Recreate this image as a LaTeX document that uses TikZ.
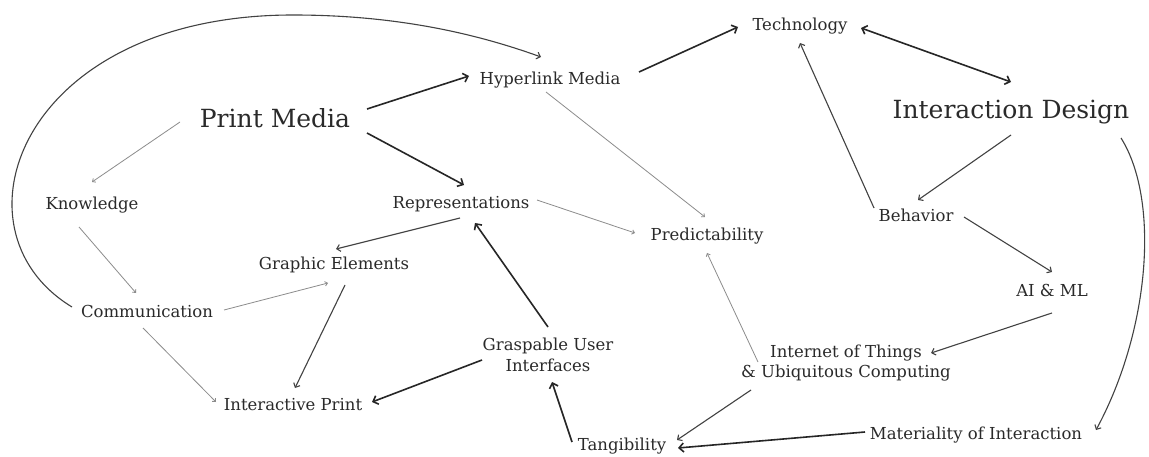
\documentclass[tikz,border=0pt]{standalone}
\usepackage{fontspec}
\setmainfont{DejaVu Serif}
\usetikzlibrary{arrows.meta,calc}
\definecolor{ink}{HTML}{262626}
\definecolor{txt}{HTML}{2A2A2A}
\definecolor{mid}{HTML}{424242}
\definecolor{faint}{HTML}{8C8C8C}

\begin{document}
\begin{tikzpicture}[x=1pt,y=-1pt,
  lbl/.style={text=txt,inner sep=0pt,align=center,font=\fontsize{16.5}{20.5}\selectfont},
  hub/.style={text=txt,inner sep=0pt,font=\fontsize{25}{30}\selectfont},
  strong/.style={draw=ink,line width=1.6pt,-{Straight Barb[length=4.5pt,width=9pt]}},
  strongboth/.style={draw=ink,line width=1.6pt,{Straight Barb[length=4.5pt,width=9pt]}-{Straight Barb[length=4.5pt,width=9pt]}},
  medium/.style={draw=mid,line width=1.1pt,-{Straight Barb[length=3.5pt,width=7pt]}},
  light/.style={draw=faint,line width=0.8pt,-{Straight Barb[length=2.5pt,width=4.5pt]}}
]
\fill[white] (0,0) rectangle (1149,457);
\useasboundingbox (0,0) rectangle (1149,457);

% concepts
\node[hub] (pm)   at (275,118) {Print Media};
\node[hub] (id)   at (1011,112) {Interaction Design};
\node[lbl] (hm)   at (550,80)  {Hyperlink Media};
\node[lbl] (tech) at (800,26)  {Technology};
\node[lbl] (kn)   at (92,205)  {Knowledge};
\node[lbl] (rep)  at (461,204) {Representations};
\node[lbl] (pred) at (707,236) {Predictability};
\node[lbl] (beh)  at (916,215) {Behavior};
\node[lbl] (ge)   at (334,265) {Graphic Elements};
\node[lbl] (com)  at (147,311) {Communication};
\node[lbl] (ai)   at (1052,290) {AI \& ML};
\node[lbl] (gui)  at (548,355) {Graspable User\\Interfaces};
\node[lbl] (iot)  at (846,363) {Internet of Things\\\& Ubiquitous Computing};
\node[lbl] (ip)   at (293,405) {Interactive Print};
\node[lbl] (tan)  at (622,446) {Tangibility};
\node[lbl] (mat)  at (976,435) {Materiality of Interaction};

% strong links
\draw[strong] ($(pm)+(92,-9)$) -- ($(hm)+(-81,-4)$);
\draw[strong] ($(pm)+(92,15)$) -- ($(rep)+(3,-19)$);
\draw[strong] ($(hm)+(89,-8)$) -- ($(tech)+(-62,1)$);
\draw[strongboth] ($(tech)+(61,2)$) -- ($(id)+(0,-30)$);
\draw[strong] ($(gui)+(-66,5)$) -- ($(ip)+(79,-3)$);
\draw[strong] ($(tan)+(-50,-4)$) -- ($(gui)+(4,27)$);
\draw[strong] ($(mat)+(-111,-3)$) -- ($(tan)+(56,2)$);
\draw[strong] ($(gui)+(0,-28)$) -- ($(rep)+(14,19)$);

% medium links
\draw[medium] ($(rep)+(-1,14)$) -- ($(ge)+(2,-16)$);
\draw[medium] ($(ge)+(11,20)$) -- ($(ip)+(2,-17)$);
\draw[medium] ($(id)+(0,23)$) -- ($(beh)+(2,-15)$);
\draw[medium] ($(beh)+(-42,-7)$) -- ($(tech)+(0,17)$);
\draw[medium] ($(beh)+(48,2)$) -- ($(ai)+(0,-18)$);
\draw[medium] ($(ai)+(0,23)$) -- ($(iot)+(85,-10)$);
\draw[medium] ($(iot)+(-95,27)$) -- ($(tan)+(55,-6)$);
\draw[medium] ($(id)+(110,26)$) .. controls (1160,200) and (1150,330) .. ($(mat)+(120,-5)$);
\draw[medium] ($(com)+(-75,-4)$) .. controls (-55,230) and (20,15) .. (293,15)
                .. controls (400,15) and (480,35) .. ($(hm)+(-9,-23)$);

% light links
\draw[light] ($(pm)+(-95,4)$) -- ($(kn)+(0,-23)$);
\draw[light] ($(kn)+(-13,22)$) -- ($(com)+(-11,-18)$);
\draw[light] ($(com)+(77,-1)$) -- ($(ge)+(-6,18)$);
\draw[light] ($(com)+(-4,17)$) -- ($(ip)+(-77,-3)$);
\draw[light] ($(hm)+(-4,12)$) -- ($(pred)+(-2,-19)$);
\draw[light] ($(rep)+(76,-4)$) -- ($(pred)+(-72,-3)$);
\draw[light] ($(iot)+(-88,-1)$) -- ($(pred)+(0,17)$);
\end{tikzpicture}
\end{document}
